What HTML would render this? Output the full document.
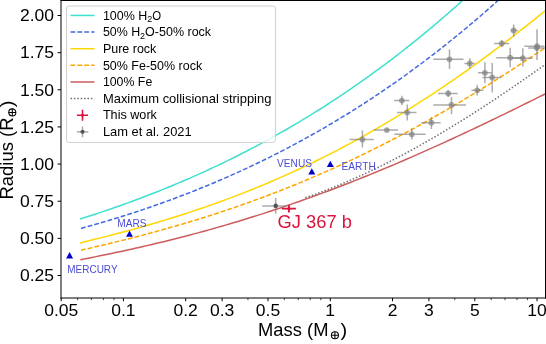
<!DOCTYPE html>
<html><head><meta charset="utf-8"><style>
html,body{margin:0;padding:0;background:#fff;}
svg{display:block;will-change:transform;}
text{font-family:"Liberation Sans",sans-serif;fill:#000;}
</style></head><body>
<svg width="546" height="344" viewBox="0 0 546 344">
<defs><clipPath id="ax"><rect x="61" y="0.5" width="484.5" height="297"/></clipPath></defs>
<rect width="546" height="344" fill="#fff"/>
<g clip-path="url(#ax)">
<path d="M80.10,218.98 L84.02,217.75 L87.95,216.50 L91.87,215.23 L95.79,213.95 L99.72,212.66 L103.64,211.34 L107.56,210.01 L111.49,208.67 L115.41,207.31 L119.34,205.93 L123.26,204.54 L127.18,203.13 L131.11,201.70 L135.03,200.25 L138.95,198.79 L142.88,197.31 L146.80,195.81 L150.72,194.30 L154.65,192.76 L158.57,191.21 L162.49,189.64 L166.42,188.05 L170.34,186.44 L174.26,184.81 L178.19,183.16 L182.11,181.49 L186.04,179.81 L189.96,178.10 L193.88,176.38 L197.81,174.63 L201.73,172.86 L205.65,171.08 L209.58,169.27 L213.50,167.44 L217.42,165.59 L221.35,163.72 L225.27,161.82 L229.19,159.91 L233.12,157.97 L237.04,156.02 L240.96,154.04 L244.89,152.03 L248.81,150.01 L252.74,147.96 L256.66,145.89 L260.58,143.80 L264.51,141.68 L268.43,139.54 L272.35,137.37 L276.28,135.19 L280.20,132.97 L284.12,130.74 L288.05,128.48 L291.97,126.19 L295.89,123.88 L299.82,121.55 L303.74,119.19 L307.66,116.80 L311.59,114.39 L315.51,111.96 L319.44,109.50 L323.36,107.01 L327.28,104.50 L331.21,101.96 L335.13,99.39 L339.05,96.80 L342.98,94.18 L346.90,91.53 L350.82,88.85 L354.75,86.15 L358.67,83.42 L362.59,80.67 L366.52,77.88 L370.44,75.07 L374.36,72.23 L378.29,69.36 L382.21,66.46 L386.14,63.53 L390.06,60.57 L393.98,57.59 L397.91,54.57 L401.83,51.53 L405.75,48.45 L409.68,45.35 L413.60,42.21 L417.52,39.05 L421.45,35.85 L425.37,32.63 L429.29,29.37 L433.22,26.08 L437.14,22.76 L441.06,19.41 L444.99,16.03 L448.91,12.62 L452.84,9.17 L456.76,5.69 L460.68,2.18 L464.61,-1.36 L468.53,-4.94 L472.45,-8.54 L476.38,-12.19 L480.30,-15.86 L484.22,-19.57 L488.15,-23.31 L492.07,-27.08 L495.99,-30.89 L499.92,-34.74 L503.84,-38.61 L507.76,-42.53 L511.69,-46.47 L515.61,-50.45 L519.54,-54.47 L523.46,-58.52 L527.38,-62.61 L531.31,-66.73 L535.23,-70.89 L539.15,-75.08 L543.08,-79.31 L547.00,-83.58" fill="none" stroke="#40e0d0" stroke-width="1.5" /><path d="M81.00,228.42 L84.92,227.34 L88.83,226.25 L92.75,225.14 L96.66,224.02 L100.58,222.89 L104.50,221.74 L108.41,220.57 L112.33,219.39 L116.24,218.19 L120.16,216.98 L124.08,215.75 L127.99,214.50 L131.91,213.24 L135.82,211.96 L139.74,210.67 L143.66,209.36 L147.57,208.03 L151.49,206.68 L155.40,205.32 L159.32,203.94 L163.24,202.54 L167.15,201.12 L171.07,199.69 L174.98,198.24 L178.90,196.77 L182.82,195.28 L186.73,193.77 L190.65,192.25 L194.56,190.70 L198.48,189.14 L202.39,187.56 L206.31,185.95 L210.23,184.33 L214.14,182.69 L218.06,181.03 L221.97,179.35 L225.89,177.64 L229.81,175.92 L233.72,174.18 L237.64,172.42 L241.55,170.63 L245.47,168.83 L249.39,167.00 L253.30,165.15 L257.22,163.29 L261.13,161.39 L265.05,159.48 L268.97,157.55 L272.88,155.59 L276.80,153.61 L280.71,151.61 L284.63,149.59 L288.55,147.54 L292.46,145.47 L296.38,143.38 L300.29,141.26 L304.21,139.12 L308.13,136.96 L312.04,134.77 L315.96,132.56 L319.87,130.33 L323.79,128.07 L327.71,125.79 L331.62,123.48 L335.54,121.14 L339.45,118.79 L343.37,116.40 L347.29,114.00 L351.20,111.56 L355.12,109.10 L359.03,106.62 L362.95,104.11 L366.87,101.57 L370.78,99.01 L374.70,96.42 L378.61,93.81 L382.53,91.17 L386.45,88.50 L390.36,85.80 L394.28,83.08 L398.19,80.33 L402.11,77.55 L406.03,74.75 L409.94,71.91 L413.86,69.05 L417.77,66.16 L421.69,63.25 L425.61,60.30 L429.52,57.32 L433.44,54.32 L437.35,51.29 L441.27,48.23 L445.18,45.14 L449.10,42.02 L453.02,38.87 L456.93,35.69 L460.85,32.48 L464.76,29.24 L468.68,25.97 L472.60,22.67 L476.51,19.34 L480.43,15.98 L484.34,12.59 L488.26,9.17 L492.18,5.71 L496.09,2.23 L500.01,-1.29 L503.92,-4.84 L507.84,-8.42 L511.76,-12.03 L515.67,-15.68 L519.59,-19.35 L523.50,-23.06 L527.42,-26.80 L531.34,-30.58 L535.25,-34.39 L539.17,-38.23 L543.08,-42.10 L547.00,-46.01" fill="none" stroke="#4169e1" stroke-width="1.5" stroke-dasharray="4.8 2.1"/><path d="M80.10,242.96 L84.02,242.01 L87.95,241.05 L91.87,240.08 L95.79,239.10 L99.72,238.12 L103.64,237.12 L107.56,236.12 L111.49,235.10 L115.41,234.07 L119.34,233.04 L123.26,231.99 L127.18,230.93 L131.11,229.86 L135.03,228.78 L138.95,227.68 L142.88,226.57 L146.80,225.45 L150.72,224.31 L154.65,223.17 L158.57,222.00 L162.49,220.83 L166.42,219.63 L170.34,218.43 L174.26,217.21 L178.19,215.97 L182.11,214.72 L186.04,213.45 L189.96,212.16 L193.88,210.86 L197.81,209.54 L201.73,208.21 L205.65,206.86 L209.58,205.49 L213.50,204.10 L217.42,202.70 L221.35,201.27 L225.27,199.83 L229.19,198.37 L233.12,196.89 L237.04,195.40 L240.96,193.88 L244.89,192.35 L248.81,190.79 L252.74,189.22 L256.66,187.62 L260.58,186.01 L264.51,184.37 L268.43,182.72 L272.35,181.04 L276.28,179.35 L280.20,177.63 L284.12,175.89 L288.05,174.13 L291.97,172.35 L295.89,170.55 L299.82,168.73 L303.74,166.89 L307.66,165.02 L311.59,163.13 L315.51,161.22 L319.44,159.29 L323.36,157.34 L327.28,155.36 L331.21,153.37 L335.13,151.35 L339.05,149.31 L342.98,147.24 L346.90,145.16 L350.82,143.05 L354.75,140.92 L358.67,138.76 L362.59,136.59 L366.52,134.39 L370.44,132.17 L374.36,129.92 L378.29,127.66 L382.21,125.37 L386.14,123.05 L390.06,120.72 L393.98,118.36 L397.91,115.98 L401.83,113.58 L405.75,111.15 L409.68,108.70 L413.60,106.23 L417.52,103.74 L421.45,101.22 L425.37,98.68 L429.29,96.12 L433.22,93.54 L437.14,90.93 L441.06,88.31 L444.99,85.66 L448.91,82.98 L452.84,80.29 L456.76,77.57 L460.68,74.83 L464.61,72.07 L468.53,69.29 L472.45,66.49 L476.38,63.66 L480.30,60.82 L484.22,57.95 L488.15,55.06 L492.07,52.15 L495.99,49.22 L499.92,46.27 L503.84,43.30 L507.76,40.31 L511.69,37.29 L515.61,34.26 L519.54,31.21 L523.46,28.14 L527.38,25.05 L531.31,21.93 L535.23,18.80 L539.15,15.65 L543.08,12.48 L547.00,9.30" fill="none" stroke="#ffd700" stroke-width="1.5" /><path d="M81.00,250.21 L84.92,249.31 L88.83,248.41 L92.75,247.50 L96.66,246.58 L100.58,245.65 L104.50,244.72 L108.41,243.78 L112.33,242.82 L116.24,241.86 L120.16,240.89 L124.08,239.91 L127.99,238.92 L131.91,237.92 L135.82,236.91 L139.74,235.89 L143.66,234.86 L147.57,233.82 L151.49,232.77 L155.40,231.70 L159.32,230.63 L163.24,229.54 L167.15,228.44 L171.07,227.33 L174.98,226.20 L178.90,225.06 L182.82,223.91 L186.73,222.75 L190.65,221.57 L194.56,220.38 L198.48,219.18 L202.39,217.96 L206.31,216.73 L210.23,215.48 L214.14,214.22 L218.06,212.95 L221.97,211.66 L225.89,210.36 L229.81,209.04 L233.72,207.70 L237.64,206.35 L241.55,204.99 L245.47,203.61 L249.39,202.21 L253.30,200.80 L257.22,199.37 L261.13,197.93 L265.05,196.47 L268.97,194.99 L272.88,193.50 L276.80,191.99 L280.71,190.46 L284.63,188.92 L288.55,187.36 L292.46,185.79 L296.38,184.19 L300.29,182.58 L304.21,180.96 L308.13,179.31 L312.04,177.65 L315.96,175.97 L319.87,174.28 L323.79,172.57 L327.71,170.84 L331.62,169.09 L335.54,167.32 L339.45,165.54 L343.37,163.74 L347.29,161.92 L351.20,160.08 L355.12,158.23 L359.03,156.36 L362.95,154.47 L366.87,152.56 L370.78,150.64 L374.70,148.70 L378.61,146.74 L382.53,144.76 L386.45,142.77 L390.36,140.75 L394.28,138.72 L398.19,136.67 L402.11,134.61 L406.03,132.52 L409.94,130.42 L413.86,128.30 L417.77,126.17 L421.69,124.01 L425.61,121.84 L429.52,119.66 L433.44,117.45 L437.35,115.23 L441.27,112.99 L445.18,110.73 L449.10,108.46 L453.02,106.17 L456.93,103.86 L460.85,101.53 L464.76,99.19 L468.68,96.83 L472.60,94.46 L476.51,92.07 L480.43,89.66 L484.34,87.24 L488.26,84.80 L492.18,82.34 L496.09,79.87 L500.01,77.38 L503.92,74.88 L507.84,72.36 L511.76,69.83 L515.67,67.28 L519.59,64.72 L523.50,62.14 L527.42,59.55 L531.34,56.94 L535.25,54.32 L539.17,51.68 L543.08,49.03 L547.00,46.37" fill="none" stroke="#ffa500" stroke-width="1.5" stroke-dasharray="4.8 2.1"/><path d="M80.30,259.70 L84.22,258.95 L88.14,258.18 L92.07,257.41 L95.99,256.63 L99.91,255.84 L103.83,255.05 L107.75,254.24 L111.67,253.42 L115.60,252.60 L119.52,251.76 L123.44,250.92 L127.36,250.06 L131.28,249.20 L135.21,248.32 L139.13,247.44 L143.05,246.54 L146.97,245.64 L150.89,244.72 L154.82,243.79 L158.74,242.85 L162.66,241.90 L166.58,240.94 L170.50,239.97 L174.42,238.99 L178.35,237.99 L182.27,236.99 L186.19,235.97 L190.11,234.94 L194.03,233.90 L197.96,232.85 L201.88,231.78 L205.80,230.71 L209.72,229.62 L213.64,228.52 L217.56,227.40 L221.49,226.28 L225.41,225.14 L229.33,223.99 L233.25,222.83 L237.17,221.66 L241.10,220.47 L245.02,219.27 L248.94,218.06 L252.86,216.84 L256.78,215.60 L260.71,214.35 L264.63,213.09 L268.55,211.81 L272.47,210.53 L276.39,209.23 L280.31,207.92 L284.24,206.59 L288.16,205.26 L292.08,203.91 L296.00,202.55 L299.92,201.17 L303.85,199.78 L307.77,198.39 L311.69,196.97 L315.61,195.55 L319.53,194.11 L323.45,192.67 L327.38,191.21 L331.30,189.73 L335.22,188.25 L339.14,186.75 L343.06,185.24 L346.99,183.72 L350.91,182.19 L354.83,180.64 L358.75,179.09 L362.67,177.52 L366.59,175.94 L370.52,174.35 L374.44,172.75 L378.36,171.13 L382.28,169.51 L386.20,167.87 L390.13,166.23 L394.05,164.57 L397.97,162.90 L401.89,161.22 L405.81,159.53 L409.74,157.83 L413.66,156.12 L417.58,154.40 L421.50,152.67 L425.42,150.93 L429.34,149.18 L433.27,147.42 L437.19,145.65 L441.11,143.87 L445.03,142.09 L448.95,140.29 L452.88,138.48 L456.80,136.67 L460.72,134.85 L464.64,133.02 L468.56,131.18 L472.48,129.33 L476.41,127.48 L480.33,125.62 L484.25,123.75 L488.17,121.87 L492.09,119.99 L496.02,118.10 L499.94,116.20 L503.86,114.30 L507.78,112.39 L511.70,110.48 L515.63,108.56 L519.55,106.63 L523.47,104.70 L527.39,102.77 L531.31,100.83 L535.23,98.88 L539.16,96.93 L543.08,94.98 L547.00,93.02" fill="none" stroke="#cd5c5c" stroke-width="1.5" /><path d="M305.30,197.69 L307.33,197.01 L309.36,196.31 L311.39,195.60 L313.42,194.88 L315.46,194.16 L317.49,193.42 L319.52,192.68 L321.55,191.92 L323.58,191.16 L325.61,190.39 L327.64,189.61 L329.67,188.82 L331.70,188.02 L333.74,187.21 L335.77,186.39 L337.80,185.57 L339.83,184.73 L341.86,183.89 L343.89,183.04 L345.92,182.18 L347.95,181.31 L349.98,180.43 L352.02,179.55 L354.05,178.65 L356.08,177.75 L358.11,176.84 L360.14,175.92 L362.17,174.99 L364.20,174.06 L366.23,173.11 L368.26,172.16 L370.29,171.20 L372.33,170.23 L374.36,169.26 L376.39,168.28 L378.42,167.28 L380.45,166.29 L382.48,165.28 L384.51,164.27 L386.54,163.25 L388.57,162.22 L390.61,161.18 L392.64,160.14 L394.67,159.09 L396.70,158.03 L398.73,156.96 L400.76,155.89 L402.79,154.81 L404.82,153.72 L406.85,152.63 L408.89,151.53 L410.92,150.42 L412.95,149.31 L414.98,148.19 L417.01,147.06 L419.04,145.92 L421.07,144.78 L423.10,143.63 L425.13,142.48 L427.17,141.32 L429.20,140.15 L431.23,138.98 L433.26,137.80 L435.29,136.61 L437.32,135.42 L439.35,134.22 L441.38,133.01 L443.41,131.80 L445.45,130.59 L447.48,129.36 L449.51,128.13 L451.54,126.90 L453.57,125.66 L455.60,124.41 L457.63,123.16 L459.66,121.90 L461.69,120.64 L463.73,119.37 L465.76,118.10 L467.79,116.82 L469.82,115.53 L471.85,114.24 L473.88,112.95 L475.91,111.65 L477.94,110.34 L479.97,109.03 L482.01,107.71 L484.04,106.39 L486.07,105.07 L488.10,103.74 L490.13,102.40 L492.16,101.06 L494.19,99.71 L496.22,98.36 L498.25,97.01 L500.28,95.65 L502.32,94.29 L504.35,92.92 L506.38,91.54 L508.41,90.17 L510.44,88.79 L512.47,87.40 L514.50,86.01 L516.53,84.62 L518.56,83.22 L520.60,81.82 L522.63,80.41 L524.66,79.00 L526.69,77.59 L528.72,76.17 L530.75,74.75 L532.78,73.32 L534.81,71.89 L536.84,70.46 L538.88,69.02 L540.91,67.58 L542.94,66.14 L544.97,64.69 L547.00,63.24" fill="none" stroke="#707070" stroke-width="1.5" stroke-dasharray="1.5 1.9"/>
<path d="M262.2,205.9 H286.4" stroke="#808080" stroke-opacity="0.66" stroke-width="1.5" fill="none"/><path d="M275.7,198.1 V213.8" stroke="#808080" stroke-opacity="0.66" stroke-width="1.5" fill="none"/><circle cx="275.7" cy="205.9" r="2.3" fill="#444" fill-opacity="0.85"/><path d="M349.6,139.5 H373.8" stroke="#808080" stroke-opacity="0.66" stroke-width="1.5" fill="none"/><path d="M362.4,130.4 V147.5" stroke="#808080" stroke-opacity="0.66" stroke-width="1.5" fill="none"/><circle cx="362.4" cy="139.5" r="2.9" fill="#808080" fill-opacity="0.66"/><path d="M373.8,130.1 H398.0" stroke="#808080" stroke-opacity="0.66" stroke-width="1.5" fill="none"/><path d="M386.8,128.6 V131.6" stroke="#808080" stroke-opacity="0.66" stroke-width="1.5" fill="none"/><circle cx="386.8" cy="130.1" r="2.9" fill="#808080" fill-opacity="0.66"/><path d="M394.1,100.6 H409.3" stroke="#808080" stroke-opacity="0.66" stroke-width="1.5" fill="none"/><path d="M401.9,95.8 V105.3" stroke="#808080" stroke-opacity="0.66" stroke-width="1.5" fill="none"/><circle cx="401.9" cy="100.6" r="2.9" fill="#808080" fill-opacity="0.66"/><path d="M397.0,112.5 H416.5" stroke="#808080" stroke-opacity="0.66" stroke-width="1.5" fill="none"/><path d="M407.2,104.5 V120.5" stroke="#808080" stroke-opacity="0.66" stroke-width="1.5" fill="none"/><circle cx="407.2" cy="112.5" r="2.9" fill="#808080" fill-opacity="0.66"/><path d="M421.3,122.7 H440.7" stroke="#808080" stroke-opacity="0.66" stroke-width="1.5" fill="none"/><path d="M431.4,116.9 V129.0" stroke="#808080" stroke-opacity="0.66" stroke-width="1.5" fill="none"/><circle cx="431.4" cy="122.7" r="2.9" fill="#808080" fill-opacity="0.66"/><path d="M394.4,134.3 H425.6" stroke="#808080" stroke-opacity="0.66" stroke-width="1.5" fill="none"/><path d="M411.8,128.5 V139.4" stroke="#808080" stroke-opacity="0.66" stroke-width="1.5" fill="none"/><circle cx="411.8" cy="134.3" r="2.9" fill="#808080" fill-opacity="0.66"/><path d="M438.0,93.5 H457.6" stroke="#808080" stroke-opacity="0.66" stroke-width="1.5" fill="none"/><path d="M448.2,90.3 V96.9" stroke="#808080" stroke-opacity="0.66" stroke-width="1.5" fill="none"/><circle cx="448.2" cy="93.5" r="2.9" fill="#808080" fill-opacity="0.66"/><path d="M433.2,104.9 H466.0" stroke="#808080" stroke-opacity="0.66" stroke-width="1.5" fill="none"/><path d="M451.5,96.9 V114.3" stroke="#808080" stroke-opacity="0.66" stroke-width="1.5" fill="none"/><circle cx="451.5" cy="104.9" r="2.9" fill="#808080" fill-opacity="0.66"/><path d="M471.4,90.3 H483.4" stroke="#808080" stroke-opacity="0.66" stroke-width="1.5" fill="none"/><path d="M477.2,84.7 V95.4" stroke="#808080" stroke-opacity="0.66" stroke-width="1.5" fill="none"/><circle cx="477.2" cy="90.3" r="2.9" fill="#808080" fill-opacity="0.66"/><path d="M433.3,59.3 H463.5" stroke="#808080" stroke-opacity="0.66" stroke-width="1.5" fill="none"/><path d="M449.5,49.5 V69.1" stroke="#808080" stroke-opacity="0.66" stroke-width="1.5" fill="none"/><circle cx="449.5" cy="59.3" r="2.9" fill="#808080" fill-opacity="0.66"/><path d="M464.4,63.4 H474.9" stroke="#808080" stroke-opacity="0.66" stroke-width="1.5" fill="none"/><path d="M469.8,58.3 V68.5" stroke="#808080" stroke-opacity="0.66" stroke-width="1.5" fill="none"/><circle cx="469.8" cy="63.4" r="2.9" fill="#808080" fill-opacity="0.66"/><path d="M478.0,72.8 H491.8" stroke="#808080" stroke-opacity="0.66" stroke-width="1.5" fill="none"/><path d="M484.9,62.3 V82.9" stroke="#808080" stroke-opacity="0.66" stroke-width="1.5" fill="none"/><circle cx="484.9" cy="72.8" r="2.9" fill="#808080" fill-opacity="0.66"/><path d="M482.4,77.5 H501.3" stroke="#808080" stroke-opacity="0.66" stroke-width="1.5" fill="none"/><path d="M492.2,63.0 V92.5" stroke="#808080" stroke-opacity="0.66" stroke-width="1.5" fill="none"/><circle cx="492.2" cy="77.5" r="2.9" fill="#808080" fill-opacity="0.66"/><path d="M496.2,57.7 H524.0" stroke="#808080" stroke-opacity="0.66" stroke-width="1.5" fill="none"/><path d="M510.2,47.8 V67.2" stroke="#808080" stroke-opacity="0.66" stroke-width="1.5" fill="none"/><circle cx="510.2" cy="57.7" r="2.9" fill="#808080" fill-opacity="0.66"/><path d="M510.5,30.5 H517.8" stroke="#808080" stroke-opacity="0.66" stroke-width="1.5" fill="none"/><path d="M513.7,24.4 V36.7" stroke="#808080" stroke-opacity="0.66" stroke-width="1.5" fill="none"/><circle cx="513.7" cy="30.5" r="2.9" fill="#808080" fill-opacity="0.66"/><path d="M494.1,43.5 H509.3" stroke="#808080" stroke-opacity="0.66" stroke-width="1.5" fill="none"/><path d="M501.8,40.3 V47.0" stroke="#808080" stroke-opacity="0.66" stroke-width="1.5" fill="none"/><circle cx="501.8" cy="43.5" r="2.9" fill="#808080" fill-opacity="0.66"/><path d="M512.0,58.2 H532.6" stroke="#808080" stroke-opacity="0.66" stroke-width="1.5" fill="none"/><path d="M522.8,48.2 V66.5" stroke="#808080" stroke-opacity="0.66" stroke-width="1.5" fill="none"/><circle cx="522.8" cy="58.2" r="2.9" fill="#808080" fill-opacity="0.66"/><path d="M524.4,46.2 H544.4" stroke="#808080" stroke-opacity="0.66" stroke-width="1.5" fill="none"/><path d="M537.0,29.3 V60.0" stroke="#808080" stroke-opacity="0.66" stroke-width="1.5" fill="none"/><circle cx="537.0" cy="46.2" r="2.9" fill="#808080" fill-opacity="0.66"/><path d="M528.2,47.9 H546.0" stroke="#808080" stroke-opacity="0.66" stroke-width="1.5" fill="none"/><path d="M536.8,45.0 V51.0" stroke="#808080" stroke-opacity="0.66" stroke-width="1.5" fill="none"/><circle cx="536.8" cy="47.9" r="2.9" fill="#808080" fill-opacity="0.66"/>
<path d="M281.9,208.7 H295.9 M288.9,205.0 V212.6" stroke="#dc143c" stroke-width="1.8" fill="none"/><circle cx="288.9" cy="208.7" r="1.6" fill="#dc143c"/>
<path d="M69.6,252.12 L73.10,258.42 L66.10,258.42 Z" fill="#0000cd"/><path d="M129.5,230.42 L133.00,236.72 L126.00,236.72 Z" fill="#0000cd"/><path d="M311.8,168.32 L315.30,174.62 L308.30,174.62 Z" fill="#0000cd"/><path d="M330.3,160.72 L333.80,167.02 L326.80,167.02 Z" fill="#0000cd"/>
<text x="67.30" y="272.60" text-anchor="start" style="font-size:10.8px;fill:#4c4cd9" textLength="50.24" lengthAdjust="spacingAndGlyphs" >MERCURY</text><text x="117.30" y="227.30" text-anchor="start" style="font-size:10.8px;fill:#4c4cd9" textLength="29.34" lengthAdjust="spacingAndGlyphs" >MARS</text><text x="277.00" y="166.70" text-anchor="start" style="font-size:10.8px;fill:#4c4cd9" textLength="34.99" lengthAdjust="spacingAndGlyphs" >VENUS</text><text x="341.40" y="169.80" text-anchor="start" style="font-size:10.8px;fill:#4c4cd9" textLength="34.41" lengthAdjust="spacingAndGlyphs" >EARTH</text>
<text x="277.60" y="227.70" text-anchor="start" style="font-size:18.5px;fill:#dc143c" textLength="74.36" lengthAdjust="spacingAndGlyphs" >GJ 367 b</text>
</g>
<rect x="66.5" y="6.0" width="208.9" height="136.4" rx="2" fill="#fff" fill-opacity="0.8" stroke="#d0d0d0" stroke-width="1"/><text x="102.90" y="19.70" text-anchor="start" style="font-size:12.1px;fill:#000" textLength="44.39" lengthAdjust="spacingAndGlyphs" >100% H</text><text x="147.29" y="22.10" text-anchor="start" style="font-size:8.469999999999999px;fill:#000" textLength="5.03" lengthAdjust="spacingAndGlyphs" >2</text><text x="152.33" y="19.70" text-anchor="start" style="font-size:12.1px;fill:#000" textLength="8.89" lengthAdjust="spacingAndGlyphs" >O</text><path d="M70.5,15.45 H94.5" stroke="#40e0d0" stroke-width="1.5" /><text x="102.90" y="36.33" text-anchor="start" style="font-size:12.1px;fill:#000" textLength="37.21" lengthAdjust="spacingAndGlyphs" >50% H</text><text x="140.11" y="38.73" text-anchor="start" style="font-size:8.469999999999999px;fill:#000" textLength="5.03" lengthAdjust="spacingAndGlyphs" >2</text><text x="145.14" y="36.33" text-anchor="start" style="font-size:12.1px;fill:#000" textLength="66.00" lengthAdjust="spacingAndGlyphs" >O-50% rock</text><path d="M70.5,32.08 H94.5" stroke="#4169e1" stroke-width="1.5" stroke-dasharray="4.8 2.1"/><text x="102.90" y="52.96" text-anchor="start" style="font-size:12.1px;fill:#000" textLength="53.48" lengthAdjust="spacingAndGlyphs" >Pure rock</text><path d="M70.5,48.71 H94.5" stroke="#ffd700" stroke-width="1.5" /><text x="102.90" y="69.59" text-anchor="start" style="font-size:12.1px;fill:#000" textLength="99.26" lengthAdjust="spacingAndGlyphs" >50% Fe-50% rock</text><path d="M70.5,65.34 H94.5" stroke="#ffa500" stroke-width="1.5" stroke-dasharray="4.8 2.1"/><text x="102.90" y="86.22" text-anchor="start" style="font-size:12.1px;fill:#000" textLength="49.35" lengthAdjust="spacingAndGlyphs" >100% Fe</text><path d="M70.5,81.97 H94.5" stroke="#cd5c5c" stroke-width="1.5" /><text x="102.90" y="102.85" text-anchor="start" style="font-size:12.1px;fill:#000" textLength="168.50" lengthAdjust="spacingAndGlyphs" >Maximum collisional stripping</text><path d="M70.5,98.60 H94.5" stroke="#707070" stroke-width="1.5" stroke-dasharray="1.5 1.9"/><text x="102.90" y="119.48" text-anchor="start" style="font-size:12.1px;fill:#000" textLength="54.03" lengthAdjust="spacingAndGlyphs" >This work</text><path d="M76.9,115.23 H88.1 M82.5,109.83 V120.63" stroke="#dc143c" stroke-width="1.6"/><circle cx="82.5" cy="115.23" r="1.5" fill="#dc143c"/><text x="102.90" y="136.11" text-anchor="start" style="font-size:12.1px;fill:#000" textLength="88.80" lengthAdjust="spacingAndGlyphs" >Lam et al. 2021</text><path d="M76.9,131.86 H88.3" stroke="#808080" stroke-opacity="0.66" stroke-width="1.5"/><path d="M82.5,126.46 V137.26" stroke="#808080" stroke-opacity="0.66" stroke-width="1.5"/><circle cx="82.5" cy="131.86" r="2.1" fill="#444" fill-opacity="0.85"/>
<path d="M60.5,0.5 H546 M545.5,0 V298.5 M61,0 V298.5 M60.5,298 H546" fill="none" stroke="#000" stroke-width="1"/>
<path d="M57.6,275.50 H61" stroke="#000" stroke-width="1"/><text x="54.00" y="281.30" text-anchor="end" style="font-size:16.0px;fill:#000" textLength="34.07" lengthAdjust="spacingAndGlyphs" >0.25</text><path d="M57.6,238.36 H61" stroke="#000" stroke-width="1"/><text x="54.00" y="244.16" text-anchor="end" style="font-size:16.0px;fill:#000" textLength="34.07" lengthAdjust="spacingAndGlyphs" >0.50</text><path d="M57.6,201.22 H61" stroke="#000" stroke-width="1"/><text x="54.00" y="207.02" text-anchor="end" style="font-size:16.0px;fill:#000" textLength="34.07" lengthAdjust="spacingAndGlyphs" >0.75</text><path d="M57.6,164.07 H61" stroke="#000" stroke-width="1"/><text x="54.00" y="169.87" text-anchor="end" style="font-size:16.0px;fill:#000" textLength="34.07" lengthAdjust="spacingAndGlyphs" >1.00</text><path d="M57.6,126.93 H61" stroke="#000" stroke-width="1"/><text x="54.00" y="132.73" text-anchor="end" style="font-size:16.0px;fill:#000" textLength="34.07" lengthAdjust="spacingAndGlyphs" >1.25</text><path d="M57.6,89.79 H61" stroke="#000" stroke-width="1"/><text x="54.00" y="95.59" text-anchor="end" style="font-size:16.0px;fill:#000" textLength="34.07" lengthAdjust="spacingAndGlyphs" >1.50</text><path d="M57.6,52.65 H61" stroke="#000" stroke-width="1"/><text x="54.00" y="58.45" text-anchor="end" style="font-size:16.0px;fill:#000" textLength="34.07" lengthAdjust="spacingAndGlyphs" >1.75</text><path d="M57.6,15.50 H61" stroke="#000" stroke-width="1"/><text x="54.00" y="21.30" text-anchor="end" style="font-size:16.0px;fill:#000" textLength="34.07" lengthAdjust="spacingAndGlyphs" >2.00</text><path d="M61.20,298 V301.2" stroke="#000" stroke-width="1"/><text x="61.20" y="316.20" text-anchor="middle" style="font-size:16.0px;fill:#000" textLength="34.07" lengthAdjust="spacingAndGlyphs" >0.05</text><path d="M123.45,298 V301.2" stroke="#000" stroke-width="1"/><text x="123.45" y="316.20" text-anchor="middle" style="font-size:16.0px;fill:#000" textLength="24.33" lengthAdjust="spacingAndGlyphs" >0.1</text><path d="M185.71,298 V301.2" stroke="#000" stroke-width="1"/><text x="185.71" y="316.20" text-anchor="middle" style="font-size:16.0px;fill:#000" textLength="24.33" lengthAdjust="spacingAndGlyphs" >0.2</text><path d="M222.12,298 V301.2" stroke="#000" stroke-width="1"/><text x="222.12" y="316.20" text-anchor="middle" style="font-size:16.0px;fill:#000" textLength="24.33" lengthAdjust="spacingAndGlyphs" >0.3</text><path d="M268.00,298 V301.2" stroke="#000" stroke-width="1"/><text x="268.00" y="316.20" text-anchor="middle" style="font-size:16.0px;fill:#000" textLength="24.33" lengthAdjust="spacingAndGlyphs" >0.5</text><path d="M330.25,298 V301.2" stroke="#000" stroke-width="1"/><text x="330.25" y="316.20" text-anchor="middle" style="font-size:16.0px;fill:#000" textLength="9.73" lengthAdjust="spacingAndGlyphs" >1</text><path d="M392.51,298 V301.2" stroke="#000" stroke-width="1"/><text x="392.51" y="316.20" text-anchor="middle" style="font-size:16.0px;fill:#000" textLength="9.73" lengthAdjust="spacingAndGlyphs" >2</text><path d="M428.92,298 V301.2" stroke="#000" stroke-width="1"/><text x="428.92" y="316.20" text-anchor="middle" style="font-size:16.0px;fill:#000" textLength="9.73" lengthAdjust="spacingAndGlyphs" >3</text><path d="M474.80,298 V301.2" stroke="#000" stroke-width="1"/><text x="474.80" y="316.20" text-anchor="middle" style="font-size:16.0px;fill:#000" textLength="9.73" lengthAdjust="spacingAndGlyphs" >5</text><path d="M537.05,298 V301.2" stroke="#000" stroke-width="1"/><text x="537.05" y="316.20" text-anchor="middle" style="font-size:16.0px;fill:#000" textLength="19.47" lengthAdjust="spacingAndGlyphs" >10</text><path d="M77.57,298 V300.2" stroke="#000" stroke-width="0.7"/><path d="M91.42,298 V300.2" stroke="#000" stroke-width="0.7"/><path d="M103.41,298 V300.2" stroke="#000" stroke-width="0.7"/><path d="M113.99,298 V300.2" stroke="#000" stroke-width="0.7"/><path d="M247.96,298 V300.2" stroke="#000" stroke-width="0.7"/><path d="M284.37,298 V300.2" stroke="#000" stroke-width="0.7"/><path d="M298.22,298 V300.2" stroke="#000" stroke-width="0.7"/><path d="M310.21,298 V300.2" stroke="#000" stroke-width="0.7"/><path d="M320.79,298 V300.2" stroke="#000" stroke-width="0.7"/><path d="M454.76,298 V300.2" stroke="#000" stroke-width="0.7"/><path d="M491.17,298 V300.2" stroke="#000" stroke-width="0.7"/><path d="M505.02,298 V300.2" stroke="#000" stroke-width="0.7"/><path d="M517.01,298 V300.2" stroke="#000" stroke-width="0.7"/><path d="M527.59,298 V300.2" stroke="#000" stroke-width="0.7"/>
<text x="258.10" y="335.60" text-anchor="start" style="font-size:18.2px;fill:#000" textLength="70.32" lengthAdjust="spacingAndGlyphs" >Mass (M</text><g stroke="#000" stroke-width="1.05" fill="none"><circle cx="334.9" cy="335.2" r="3.55"/><path d="M331.34999999999997,335.2 H338.45 M334.9,331.65 V338.75"/></g><text x="340.40" y="335.60" text-anchor="start" style="font-size:18.2px;fill:#000" textLength="6.71" lengthAdjust="spacingAndGlyphs" >)</text>
<g transform="translate(13.2,199.6) rotate(-90)"><text x="0.00" y="0.00" text-anchor="start" style="font-size:18.2px;fill:#000" textLength="82.18" lengthAdjust="spacingAndGlyphs" >Radius (R</text><g stroke="#000" stroke-width="1.05" fill="none"><circle cx="87.1787109375" cy="-0.9" r="3.55"/><path d="M83.6287109375,-0.9 H90.7287109375 M87.1787109375,-4.45 V2.65"/></g><text x="92.28" y="0.00" text-anchor="start" style="font-size:18.2px;fill:#000" textLength="6.71" lengthAdjust="spacingAndGlyphs" >)</text></g>
</svg>
</body></html>
